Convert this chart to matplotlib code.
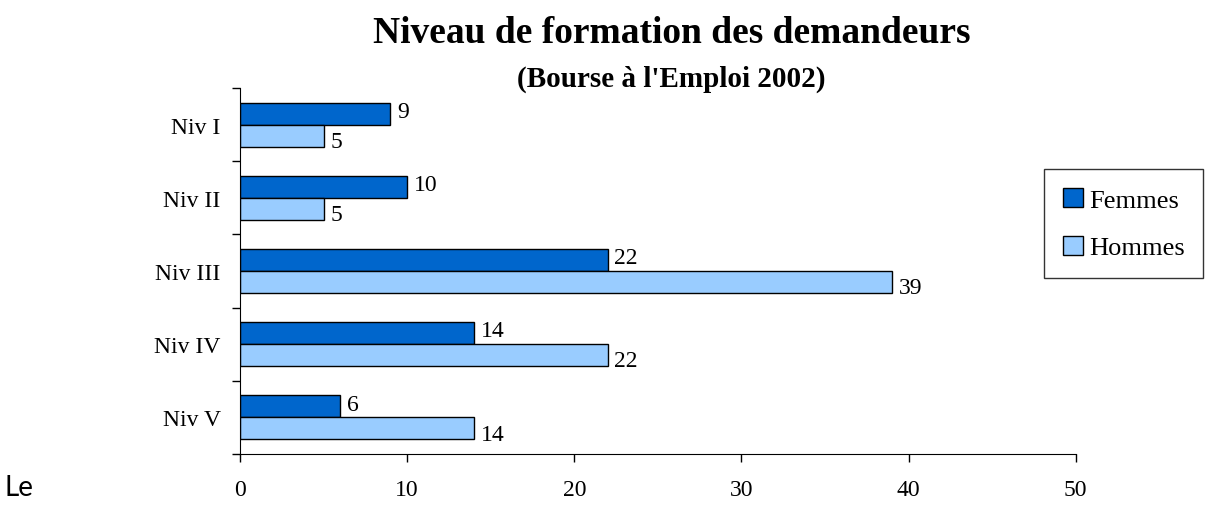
import matplotlib.pyplot as plt
import numpy as np

plt.rcParams['font.family'] = ['Liberation Serif', 'DejaVu Serif']

# data
niveaux = ['Niv I', 'Niv II', 'Niv III', 'Niv IV', 'Niv V']
femmes = [9, 10, 22, 14, 6]
hommes = [5, 5, 39, 22, 14]

fig = plt.figure(figsize=(12.06, 5.06), dpi=100)
ax = fig.add_axes([0.199, 0.101, 0.693, 0.723])

y = np.arange(len(niveaux))
h = 0.3
b1 = ax.barh(y - h / 2, femmes, height=h, color='#0066CC', edgecolor='black', linewidth=1, label='Femmes')
b2 = ax.barh(y + h / 2, hommes, height=h, color='#99CCFF', edgecolor='black', linewidth=1, label='Hommes')

# value labels next to each bar
for rect, v in zip(b1, femmes):
    ax.text(v + 0.4, rect.get_y() + rect.get_height() / 2 - 0.03, str(v), va='center', ha='left', fontsize=17)
for rect, v in zip(b2, hommes):
    ax.text(v + 0.4, rect.get_y() + rect.get_height() / 2 + 0.08, str(v), va='center', ha='left', fontsize=17)

ax.set_xlim(0, 50)
ax.set_ylim(len(niveaux) - 0.5, -0.5)
ax.set_xticks(np.arange(0, 51, 10))
ax.set_yticks(y)
ax.set_yticklabels(niveaux)
ax.set_yticks(np.arange(-0.5, len(niveaux), 1), minor=True)
ax.tick_params(axis='y', which='major', length=0, pad=14, labelsize=17)
ax.tick_params(axis='y', which='minor', length=6, width=1)
ax.tick_params(axis='x', length=6, width=1, pad=12, labelsize=17)

ax.spines['top'].set_visible(False)
ax.spines['right'].set_visible(False)

fig.text(0.557, 0.933, 'Niveau de formation des demandeurs', ha='center', va='center',
         fontsize=27, fontweight='bold')
fig.text(0.557, 0.843, "(Bourse à l'Emploi 2002)", ha='center', va='center',
         fontsize=21, fontweight='bold')

fig.legend(handles=[b1, b2], loc='center left', bbox_to_anchor=(0.866, 0.556),
           fontsize=19, frameon=True, fancybox=False, edgecolor='black',
           handlelength=0.75, handleheight=0.75, handletextpad=0.25, labelspacing=0.9,
           borderpad=0.7, borderaxespad=0)

fig.text(0.004, 0.035, 'Le', fontsize=20, family=['Lato', 'DejaVu Sans'], ha='left', va='center')

fig.savefig('out.png', dpi=100)
